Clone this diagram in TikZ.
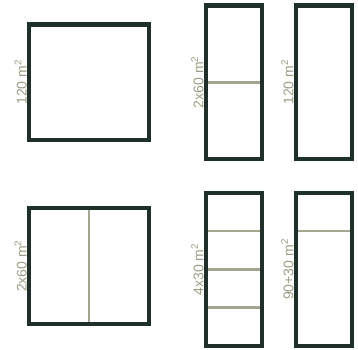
\documentclass[tikz,border=0pt]{standalone}
\usepackage{fontspec}
\setmainfont{Liberation Sans}
\usetikzlibrary{positioning,calc}
\definecolor{wallgreen}{HTML}{1F2F29}
\definecolor{splitgray}{HTML}{A3A590}
\definecolor{areagray}{HTML}{9A9E86}
\tikzset{
    plotbox/.style={draw=wallgreen, line width=4.2pt, outer sep=0pt, inner sep=0pt, fill=white},
    plotsquare/.style={plotbox, minimum width=119.4pt, minimum height=115.5pt},
    plottall/.style={plotbox, minimum width=56pt, minimum height=153.5pt},
    plotsplit/.style={draw=splitgray, line width=2.6pt, shorten >=2.1pt, shorten <=2.1pt},
    plotlabel/.style={rotate=90, anchor=south, inner sep=0pt, outer sep=0pt, yshift=2.5pt, text=areagray, font=\fontsize{14pt}{16pt}\selectfont}
}

\begin{document}
\begin{tikzpicture}[node distance=68.3pt and 57.3pt]
    \useasboundingbox (0,0) rectangle (358pt,-349pt);
    \node[plotsquare, label={[plotlabel]west:120 m\textsuperscript{2}}] (whole) at (89pt,-82.2pt) {};
    \node[plottall, right=of whole, label={[plotlabel]west:2x60 m\textsuperscript{2}}] (twohalves) {};
    \node[plottall, right=34pt of twohalves, label={[plotlabel]west:120 m\textsuperscript{2}}] (long) {};
    \node[plotsquare, below=of whole, label={[plotlabel]west:2x60 m\textsuperscript{2}}] (sidehalves) {};
    \node[plottall, below=33.7pt of twohalves, label={[plotlabel]west:4x30 m\textsuperscript{2}}] (quarters) {};
    \node[plottall, below=33.7pt of long, label={[plotlabel]west:90+30 m\textsuperscript{2}}] (mixed) {};

    \draw[plotsplit] (twohalves.west) -- (twohalves.east);
    \draw[plotsplit] (sidehalves.north) -- (sidehalves.south);
    \foreach \f in {0.25,0.5,0.75}
        \draw[plotsplit] ($(quarters.north west)!\f!(quarters.south west)$) -- ($(quarters.north east)!\f!(quarters.south east)$);
    \draw[plotsplit] ($(mixed.north west)!0.25!(mixed.south west)$) -- ($(mixed.north east)!0.25!(mixed.south east)$);
\end{tikzpicture}
\end{document}
